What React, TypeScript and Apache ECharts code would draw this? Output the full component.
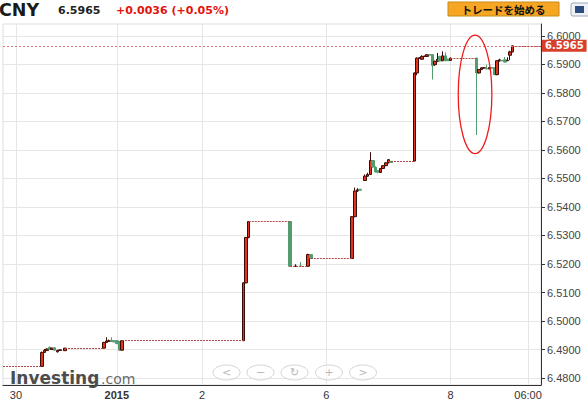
import React, { useEffect, useRef } from "react";
import * as echarts from "echarts";

// hourly slots (category positions)
const slotCount = 209;
const categories: string[] = Array.from({ length: slotCount }, (_, i) => String(i));

// x tick labels
const tickIndices = [5, 44, 77, 125, 173, 203];
const tickTexts = ["30", "2015", "2", "6", "8", "06:00"];

// y tick values
const yTicks = [6.48, 6.49, 6.5, 6.51, 6.52, 6.53, 6.54, 6.55, 6.56, 6.57, 6.58, 6.59, 6.6];

// candles: [slot, open, close, low, high]
const candles: [number, number, number, number, number][] = [
  [15, 6.4841, 6.489, 6.4841, 6.4893],
  [16, 6.489, 6.4897, 6.4888, 6.4902],
  [17, 6.4897, 6.4902, 6.4895, 6.4904],
  [18, 6.4908, 6.4901, 6.4899, 6.491],
  [19, 6.49, 6.4905, 6.4899, 6.4907],
  [20, 6.4906, 6.4898, 6.4897, 6.4908],
  [21, 6.4892, 6.4897, 6.489, 6.4899],
  [22, 6.4897, 6.4899, 6.4896, 6.49],
  [24, 6.4896, 6.4905, 6.4895, 6.4906],
  [39, 6.4905, 6.4925, 6.4904, 6.4927],
  [40, 6.4925, 6.493, 6.4923, 6.4943],
  [41, 6.4929, 6.4931, 6.4927, 6.4935],
  [42, 6.4932, 6.4929, 6.4927, 6.4943],
  [43, 6.4931, 6.4927, 6.4925, 6.4933],
  [44, 6.4931, 6.4921, 6.4919, 6.4933],
  [45, 6.4928, 6.4898, 6.4896, 6.493],
  [46, 6.4898, 6.4931, 6.4896, 6.4933],
  [93, 6.4931, 6.5134, 6.4931, 6.5136],
  [94, 6.5134, 6.5293, 6.5132, 6.5295],
  [95, 6.5293, 6.5349, 6.529, 6.5351],
  [111, 6.5349, 6.5192, 6.519, 6.535],
  [113, 6.5192, 6.5193, 6.5191, 6.5199],
  [115, 6.5193, 6.5192, 6.5191, 6.5207],
  [118, 6.5192, 6.5233, 6.5191, 6.5236],
  [119, 6.5233, 6.522, 6.5218, 6.5234],
  [135, 6.5219, 6.5366, 6.5218, 6.5368],
  [136, 6.5366, 6.5456, 6.5364, 6.5468],
  [137, 6.5456, 6.546, 6.5453, 6.5466],
  [138, 6.5462, 6.5459, 6.5458, 6.5463],
  [140, 6.5493, 6.5508, 6.5491, 6.5514],
  [141, 6.5508, 6.5514, 6.5506, 6.552],
  [142, 6.5514, 6.5563, 6.5512, 6.5592],
  [143, 6.5563, 6.554, 6.5538, 6.5565],
  [144, 6.554, 6.5523, 6.5521, 6.5542],
  [145, 6.5527, 6.5522, 6.5518, 6.5529],
  [146, 6.5521, 6.5535, 6.5519, 6.5537],
  [147, 6.5535, 6.5545, 6.5533, 6.5547],
  [148, 6.5545, 6.5555, 6.5543, 6.5557],
  [149, 6.5555, 6.5566, 6.5553, 6.5568],
  [150, 6.556, 6.5556, 6.5555, 6.5561],
  [159, 6.5561, 6.587, 6.556, 6.5872],
  [160, 6.587, 6.5922, 6.5862, 6.5925],
  [161, 6.5921, 6.5923, 6.5919, 6.5925],
  [162, 6.5918, 6.5928, 6.5916, 6.5932],
  [163, 6.5928, 6.5929, 6.5927, 6.593],
  [164, 6.5928, 6.5934, 6.5926, 6.5936],
  [165, 6.5934, 6.5933, 6.5932, 6.5937],
  [166, 6.5934, 6.5896, 6.5847, 6.5936],
  [167, 6.5899, 6.5911, 6.5895, 6.5913],
  [168, 6.5911, 6.5918, 6.5908, 6.594],
  [169, 6.5928, 6.5912, 6.591, 6.593],
  [170, 6.5913, 6.593, 6.5911, 6.5946],
  [171, 6.593, 6.5913, 6.5911, 6.5942],
  [172, 6.5918, 6.5913, 6.5912, 6.592],
  [173, 6.5914, 6.5922, 6.5912, 6.5924],
  [183, 6.5922, 6.587, 6.5652, 6.5924],
  [184, 6.587, 6.5882, 6.5868, 6.5884],
  [185, 6.5882, 6.5888, 6.588, 6.589],
  [186, 6.5887, 6.5888, 6.5886, 6.589],
  [187, 6.5886, 6.5884, 6.5883, 6.5899],
  [188, 6.5884, 6.5889, 6.5883, 6.5891],
  [189, 6.5888, 6.5887, 6.5886, 6.5889],
  [190, 6.5888, 6.5864, 6.5862, 6.589],
  [191, 6.5864, 6.5913, 6.5862, 6.5915],
  [192, 6.5912, 6.5916, 6.591, 6.592],
  [193, 6.5914, 6.5913, 6.5912, 6.5915],
  [194, 6.5916, 6.5908, 6.5906, 6.5926],
  [195, 6.5913, 6.5914, 6.5912, 6.5925],
  [196, 6.5932, 6.5944, 6.5915, 6.5948],
  [197, 6.5944, 6.5965, 6.5942, 6.5966],
];

// flat (no-trade) stretches: [fromSlot, toSlot, price]
const flats: [number, number, number][] = [
  [0, 15, 6.4841],
  [24, 39, 6.4905],
  [46, 93, 6.4931],
  [95, 111, 6.5349],
  [111, 118, 6.5192],
  [119, 135, 6.522],
  [150, 159, 6.5561],
  [173, 183, 6.5922],
  [197, 208, 6.5965],
];

const lastPrice = 6.5965;
const priceChange = "+0.0036 (+0.05%)";
const symbol = "CNY";

// highlighted region (ellipse annotation): slot span and price span
const highlight = { fromSlot: 176, toSlot: 189, high: 6.6003, low: 6.5587 };

const UP = "#e3331d";
const UP_BORDER = "#3d0b06";
const DOWN = "#529c6e";
const FONT = "'Liberation Sans', Arial, sans-serif";

export default function App() {
  const ref = useRef<HTMLDivElement>(null);

  useEffect(() => {
    if (!ref.current) return;
    const chart = echarts.init(ref.current, undefined, { renderer: "svg" });

    const candleData: any[] = categories.map(() => "-");
    candles.forEach(([i, o, c, l, h]) => {
      candleData[i] = [o, c, l, h];
    });

    const navX = [226.5, 260.5, 294.5, 329, 363];
    const navSym = ["<", "−", "↻", "+", ">"];

    const staticGraphics: any[] = [
      {
        type: "text", id: "sym", x: -1, y: 10, z: 100,
        style: { text: symbol, font: "bold 17.5px 'DejaVu Sans'", fill: "#1a1a1a", textVerticalAlign: "middle" },
      },
      {
        type: "text", id: "price", x: 58, y: 10, z: 100,
        style: { text: lastPrice.toFixed(4), font: "bold 11px 'DejaVu Sans'", fill: "#222", textVerticalAlign: "middle" },
      },
      {
        type: "text", id: "chg", x: 116, y: 10, z: 100,
        style: { text: priceChange, font: "bold 11px 'DejaVu Sans'", fill: "#e5120c", textVerticalAlign: "middle" },
      },
      {
        type: "rect", id: "btn", z: 100,
        shape: { x: 448, y: 2, width: 111, height: 14 },
        style: { fill: "#f6a623", stroke: "#c98a1c", lineWidth: 1 },
      },
      {
        type: "text", id: "btnTxt", x: 503.5, y: 9, z: 101,
        style: { text: "トレードを始める", font: "bold 10.5px 'Noto Sans CJK JP'", fill: "#111", textAlign: "center", textVerticalAlign: "middle" },
      },
      {
        type: "rect", id: "icon", z: 100,
        shape: { x: 571, y: 3, width: 20, height: 13, r: 2 },
        style: { fill: "#eef2f7", stroke: "#9aa8ba", lineWidth: 1 },
      },
      {
        type: "rect", id: "iconIn", z: 101,
        shape: { x: 575, y: 6, width: 9, height: 7 },
        style: { fill: "#2b4c80" },
      },
      {
        type: "text", id: "logo1", x: 10, y: 377.5, z: 100,
        style: { text: "Investing", font: "bold 17px 'DejaVu Sans'", fill: "#4d4d4d", textVerticalAlign: "middle" },
      },
      {
        type: "text", id: "logo2", x: 101, y: 379, z: 100,
        style: { text: ".com", font: "14px 'DejaVu Sans'", fill: "#6b6b6b", textVerticalAlign: "middle" },
      },
      ...navX.flatMap((cx, k) => [
        {
          type: "ellipse", id: "nav" + k, z: 100,
          shape: { cx, cy: 372.5, rx: 13.5, ry: 7.5 },
          style: { fill: "rgba(255,255,255,0.6)", stroke: "#d4d4d4", lineWidth: 1 },
        },
        {
          type: "text", id: "navT" + k, x: cx, y: 372.5, z: 101,
          style: { text: navSym[k], font: "11px 'DejaVu Sans'", fill: "#b8b8b8", textAlign: "center", textVerticalAlign: "middle" },
        },
      ]),
    ];

    const flatLines = flats.map(([a, b, p]) => [{ coord: [a, p] }, { coord: [b, p] }]);

    const option: any = {
      animation: false,
      backgroundColor: "#ffffff",
      grid: {
        left: 3, right: 47, top: 24, bottom: 12,
        show: true, borderColor: "#dddddd", borderWidth: 1,
      },
      xAxis: {
        type: "category",
        data: categories,
        boundaryGap: false,
        axisLine: { show: true, lineStyle: { color: "#333", width: 1 } },
        axisTick: { show: false },
        axisLabel: {
          interval: (i: number) => tickIndices.includes(i),
          formatter: (v: string) => {
            const k = tickIndices.indexOf(Number(v));
            if (k < 0) return "";
            return tickTexts[k] === "2015" ? "{b|2015}" : tickTexts[k];
          },
          color: "#333",
          fontSize: 11,
          fontFamily: FONT,
          margin: 4,
          rich: { b: { fontWeight: "bold", fontSize: 11, color: "#333", fontFamily: FONT } },
        },
        splitLine: {
          show: true,
          interval: (i: number) => tickIndices.includes(i),
          lineStyle: { color: "#e6e6e6", width: 1 },
        },
      },
      yAxis: {
        type: "value",
        position: "right",
        min: 6.47757,
        max: 6.60417,
        axisLine: { show: true, lineStyle: { color: "#333", width: 1 } },
        axisTick: { show: true, length: 4, customValues: yTicks, lineStyle: { color: "#333" } },
        axisLabel: {
          customValues: yTicks,
          formatter: (v: number) => v.toFixed(4),
          color: "#444",
          fontSize: 11,
          lineHeight: 11,
          fontFamily: FONT,
          margin: 6,
        },
        splitLine: { show: true, lineStyle: { color: "#e6e6e6", width: 1 } },
      },
      series: [
        {
          type: "candlestick",
          data: candleData,
          barWidth: 3,
          itemStyle: {
            color: UP,
            color0: DOWN,
            borderColor: UP_BORDER,
            borderColor0: DOWN,
            borderWidth: 1,
          },
          markLine: {
            silent: true,
            precision: 4,
            symbol: ["none", "none"],
            label: { show: false },
            lineStyle: { color: "#b04a4a", type: [2, 1], width: 1 },
            data: [
              {
                yAxis: lastPrice,
                lineStyle: { color: "#e07a7a", type: [2, 2], width: 1 },
                label: {
                  show: true,
                  position: "end",
                  distance: 1,
                  formatter: lastPrice.toFixed(4),
                  backgroundColor: "#d9402b",
                  color: "#fff",
                  fontWeight: "bold",
                  fontSize: 10,
                  lineHeight: 10,
                  fontFamily: "'DejaVu Sans', sans-serif",
                  padding: [1, 3, 1, 3],
                },
              },
              ...flatLines,
            ],
          },
        },
      ],
      graphic: staticGraphics,
    };

    chart.setOption(option);

    const p1 = chart.convertToPixel({ gridIndex: 0 }, [highlight.fromSlot, highlight.high]) as number[];
    const p2 = chart.convertToPixel({ gridIndex: 0 }, [highlight.toSlot, highlight.low]) as number[];
    if (p1 && p2) {
      chart.setOption({
        graphic: [
          ...staticGraphics,
          {
            type: "ellipse", id: "hl", z: 90,
            shape: {
              cx: (p1[0] + p2[0]) / 2,
              cy: (p1[1] + p2[1]) / 2,
              rx: Math.abs(p2[0] - p1[0]) / 2,
              ry: Math.abs(p2[1] - p1[1]) / 2,
            },
            style: { fill: "none", stroke: "#ee1c1c", lineWidth: 1.3 },
          },
        ],
      });
    }

    return () => chart.dispose();
  }, []);

  return (
    <div
      ref={ref}
      style={{ position: "fixed", left: 0, top: 0, width: 588, height: 400, background: "#fff" }}
    />
  );
}
